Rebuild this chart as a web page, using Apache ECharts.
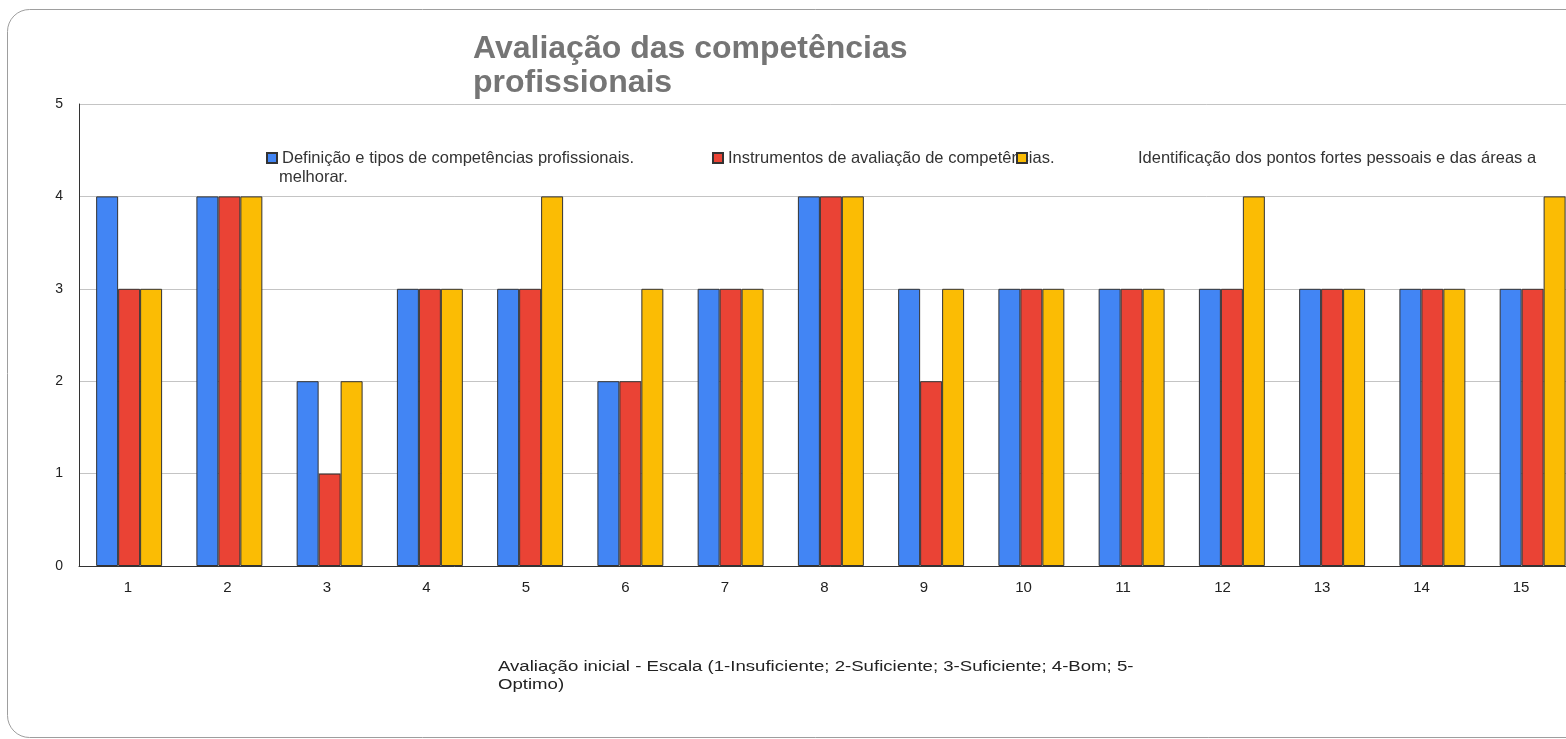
<!DOCTYPE html>
<html>
<head>
<meta charset="utf-8">
<script src="https://cdn.jsdelivr.net/npm/echarts@6/dist/echarts.min.js"></script>
<style>
  html, body { margin: 0; padding: 0; background: #fff; overflow: hidden; }
  /* mais largo que a janela: o gráfico original é cortado à direita */
  #chart { width: 1600px; height: 739px; }
</style>
</head>
<body>
<div id="chart"></div>
<script>
// dados do gráfico
var categories = ["1", "2", "3", "4", "5", "6", "7", "8", "9", "10", "11", "12", "13", "14", "15"];
var seriesNames = [
  "Definição e tipos de competências profissionais.",
  "Instrumentos de avaliação de competências.",
  "Identificação dos pontos fortes pessoais e das áreas a melhorar."
];
var definicao = [4, 4, 2, 3, 3, 2, 3, 4, 3, 3, 3, 3, 3, 3, 3];
var instrumentos = [3, 4, 1, 3, 3, 2, 3, 4, 2, 3, 3, 3, 3, 3, 3];
var identificacao = [3, 4, 2, 3, 4, 3, 3, 4, 3, 3, 3, 4, 3, 3, 4];
var yTicks = [0, 1, 2, 3, 4, 5];

var colors = ["#4285F4", "#EA4335", "#FBBC04"];
var font = "Liberation Sans, Arial, sans-serif";

var myChart = echarts.init(document.getElementById("chart"));

function barSeries(name, data, color) {
  return {
    name: name,
    type: "bar",
    data: data,
    barGap: "0%",
    barCategoryGap: "34.2%",
    itemStyle: { color: color, borderColor: "#333", borderWidth: 1 },
    emphasis: { disabled: true }
  };
}

// uma legenda por série, para acertar as posições
function legendFor(name, left, formatter) {
  return {
    data: [name],
    left: left,
    top: 149.5,
    icon: "rect",
    itemWidth: 10,
    itemHeight: 10,
    itemGap: 0,
    padding: 0,
    selectedMode: false,
    formatter: formatter,
    textStyle: {
      fontFamily: font,
      fontSize: 16.5,
      lineHeight: 17,
      color: "#333",
      rich: { s: { width: 106 } }
    }
  };
}

var option = {
  backgroundColor: "#fff",
  animation: false,
  title: {
    text: "Avaliação das competências\nprofissionais",
    left: 473,
    top: 32,
    padding: 0,
    textStyle: {
      fontFamily: font,
      fontSize: 32,
      fontWeight: "bold",
      color: "#757575",
      lineHeight: 34
    }
  },
  legend: [
    legendFor(seriesNames[0], 266),
    legendFor(seriesNames[1], 712),
    legendFor(seriesNames[2], 1016, function () {
      return "{s|}Identificação dos pontos fortes pessoais e das áreas a";
    })
  ],
  graphic: [
    {
      type: "rect",
      silent: true,
      shape: { x: 7.5, y: 9.5, width: 1640, height: 728, r: 22 },
      style: { fill: "none", stroke: "#9e9e9e", lineWidth: 1 }
    },
    {
      type: "text",
      x: 279,
      y: 177,
      silent: true,
      style: { text: "melhorar.", font: "16.5px " + font, fill: "#333", verticalAlign: "middle" }
    },
    {
      // título do eixo x (texto alargado como no original)
      type: "text",
      x: 498,
      y: 658,
      scaleX: 1.2,
      silent: true,
      style: {
        text: "Avaliação inicial - Escala (1-Insuficiente; 2-Suficiente; 3-Suficiente; 4-Bom; 5-\nOptimo)",
        font: "15.5px " + font,
        lineHeight: 18,
        fill: "#222",
        verticalAlign: "top"
      }
    }
  ],
  grid: [
    { left: 79, top: 104, bottom: 173, right: 17.25 },
    { left: 78.25, top: 104, bottom: 173, right: 29.25 }
  ],
  xAxis: [
    {
      type: "category",
      gridIndex: 0,
      data: categories,
      axisTick: { show: false },
      axisLine: { lineStyle: { color: "#333", width: 1 } },
      axisLabel: { show: false }
    },
    {
      // só para os rótulos das categorias
      type: "category",
      gridIndex: 1,
      data: categories,
      axisTick: { show: false },
      axisLine: { show: false },
      axisLabel: { fontFamily: font, fontSize: 15, color: "#222", margin: 14 }
    }
  ],
  yAxis: [
    {
      type: "value",
      gridIndex: 0,
      min: yTicks[0],
      max: yTicks[yTicks.length - 1],
      interval: 1,
      axisLine: { show: true, lineStyle: { color: "#333", width: 1 } },
      axisTick: { show: false },
      axisLabel: { fontFamily: font, fontSize: 14, color: "#222", margin: 16 },
      splitLine: { lineStyle: { color: "#c4c4c4", width: 1 } }
    },
    {
      type: "value",
      gridIndex: 1,
      min: 0,
      max: 5,
      show: false
    }
  ],
  series: [
    barSeries(seriesNames[0], definicao, colors[0]),
    barSeries(seriesNames[1], instrumentos, colors[1]),
    barSeries(seriesNames[2], identificacao, colors[2])
  ]
};

myChart.setOption(option);
</script>
</body>
</html>
